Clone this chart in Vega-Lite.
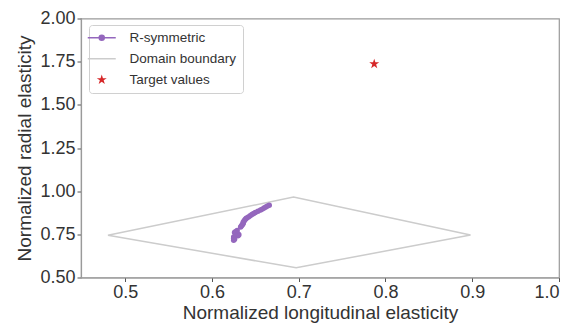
{
  "$schema": "https://vega.github.io/schema/vega-lite/v6.json",
  "width": 478,
  "height": 259,
  "autosize": {"type": "none"},
  "padding": {"left": 81, "top": 18.5, "right": 22, "bottom": 47.5},
  "background": "white",
  "config": {
    "view": {"stroke": "#9a9a9a", "strokeWidth": 1.2},
    "font": "Liberation Sans",
    "axis": {
      "labelFont": "Liberation Sans", "labelFontSize": 18, "labelColor": "#333333",
      "titleFont": "Liberation Sans", "titleFontSize": 19, "titleFontWeight": "normal", "titleColor": "#333333",
      "domainColor": "#9a9a9a", "domainWidth": 1.2, "tickColor": "#555555", "tickSize": 4, "tickWidth": 1,
      "grid": false, "labelPadding": 2
    }
  },
  "datasets": {
    "boundary": [
      {"x": 0.48, "y": 0.745, "o": 0, "series": "Domain boundary"},
      {"x": 0.694, "y": 0.966, "o": 1, "series": "Domain boundary"},
      {"x": 0.898, "y": 0.746, "o": 2, "series": "Domain boundary"},
      {"x": 0.697, "y": 0.556, "o": 3, "series": "Domain boundary"},
      {"x": 0.48, "y": 0.745, "o": 4, "series": "Domain boundary"}
    ],
    "rsym": [
      {"x": 0.666, "y": 0.919, "o": 0},
      {"x": 0.664, "y": 0.914, "o": 1},
      {"x": 0.662, "y": 0.908, "o": 2},
      {"x": 0.660, "y": 0.902, "o": 3},
      {"x": 0.658, "y": 0.896, "o": 4},
      {"x": 0.656, "y": 0.891, "o": 5},
      {"x": 0.653, "y": 0.884, "o": 6},
      {"x": 0.650, "y": 0.877, "o": 7},
      {"x": 0.648, "y": 0.870, "o": 8},
      {"x": 0.646, "y": 0.865, "o": 9},
      {"x": 0.644, "y": 0.858, "o": 10},
      {"x": 0.642, "y": 0.851, "o": 11},
      {"x": 0.640, "y": 0.845, "o": 12},
      {"x": 0.639, "y": 0.840, "o": 13},
      {"x": 0.638, "y": 0.834, "o": 14},
      {"x": 0.637, "y": 0.827, "o": 15},
      {"x": 0.636, "y": 0.820, "o": 16},
      {"x": 0.636, "y": 0.813, "o": 17},
      {"x": 0.635, "y": 0.806, "o": 18},
      {"x": 0.634, "y": 0.800, "o": 19},
      {"x": 0.633, "y": 0.792, "o": 20},
      {"x": 0.629, "y": 0.772, "o": 21},
      {"x": 0.627, "y": 0.765, "o": 22},
      {"x": 0.626, "y": 0.760, "o": 23},
      {"x": 0.628, "y": 0.756, "o": 24},
      {"x": 0.630, "y": 0.752, "o": 25},
      {"x": 0.631, "y": 0.747, "o": 26},
      {"x": 0.630, "y": 0.742, "o": 27},
      {"x": 0.627, "y": 0.740, "o": 28},
      {"x": 0.625, "y": 0.735, "o": 29},
      {"x": 0.625, "y": 0.728, "o": 30},
      {"x": 0.626, "y": 0.722, "o": 31},
      {"x": 0.625, "y": 0.716, "o": 32}
    ],
    "target": [
      {"x": 0.787, "y": 1.737, "series": "Target values"}
    ]
  },
  "encoding": {
    "x": {"field": "x", "type": "quantitative",
      "scale": {"domain": [0.449, 1.0], "nice": false, "zero": false},
      "axis": {"values": [0.5, 0.6, 0.7, 0.8, 0.9, 1.0], "format": ".1f", "title": "Normalized longitudinal elasticity", "titlePadding": 2, "labelFontSize": 18, "titleFontSize": 19}},
    "y": {"field": "y", "type": "quantitative",
      "scale": {"domain": [0.5, 2.0], "nice": false, "zero": false},
      "axis": {"values": [0.5, 0.75, 1.0, 1.25, 1.5, 1.75, 2.0], "format": ".2f", "title": "Normalized radial elasticity", "titlePadding": 5, "labelFontSize": 18, "titleFontSize": 19}}
  },
  "layer": [
    {
      "data": {"name": "boundary"},
      "mark": {"type": "line", "strokeWidth": 1.5},
      "encoding": {
        "order": {"field": "o", "type": "quantitative"},
        "color": {"field": "series", "type": "nominal",
          "scale": {"domain": ["R-symmetric", "Domain boundary", "Target values"], "range": ["#9467bd", "#cccccc", "#d62728"]},
          "legend": {
            "title": null, "orient": "none", "legendX": 8, "legendY": 6.5,
            "fillColor": "white", "strokeColor": "#d0d0d0", "cornerRadius": 3, "padding": 6,
            "labelFont": "Liberation Sans", "labelFontSize": 13.5, "labelColor": "#333333",
            "symbolSize": 784, "labelOffset": 21, "rowPadding": 6,
            "encode": {"symbols": {"update": {
              "shape": {"signal": "datum.value === 'Target values' ? 'M0,-1L0.225,-0.309L0.951,-0.309L0.363,0.118L0.588,0.809L0,0.382L-0.588,0.809L-0.363,0.118L-0.951,-0.309L-0.225,-0.309Z' : datum.value === 'R-symmetric' ? 'M-1,0H1M-0.18,0A0.18,0.18 0 1,1 0.18,0A0.18,0.18 0 1,1 -0.18,0Z' : 'M-1,0H1'"},
              "size": {"signal": "datum.value === 'Target values' ? 110 : 784"},
              "fill": {"signal": "datum.value === 'Target values' ? '#d62728' : datum.value === 'R-symmetric' ? '#9467bd' : 'transparent'"},
              "stroke": {"signal": "datum.value === 'Target values' ? 'transparent' : datum.value === 'R-symmetric' ? '#9467bd' : '#cccccc'"},
              "strokeWidth": {"signal": "datum.value === 'Target values' ? 0 : 1.5"},
              "opacity": {"value": 1}
            }}}
          }
        }
      }
    },
    {
      "data": {"name": "rsym"},
      "transform": [{"calculate": "'R-symmetric'", "as": "series"}],
      "mark": {"type": "line", "strokeWidth": 1.5, "point": {"filled": true, "size": 30, "opacity": 1}},
      "encoding": {
        "order": {"field": "o", "type": "quantitative"},
        "color": {"field": "series", "type": "nominal"}
      }
    },
    {
      "data": {"name": "target"},
      "mark": {"type": "point", "filled": true, "opacity": 1, "size": 110,
        "shape": "M0,-1L0.225,-0.309L0.951,-0.309L0.363,0.118L0.588,0.809L0,0.382L-0.588,0.809L-0.363,0.118L-0.951,-0.309L-0.225,-0.309Z"},
      "encoding": {
        "color": {"field": "series", "type": "nominal"}
      }
    }
  ]
}
